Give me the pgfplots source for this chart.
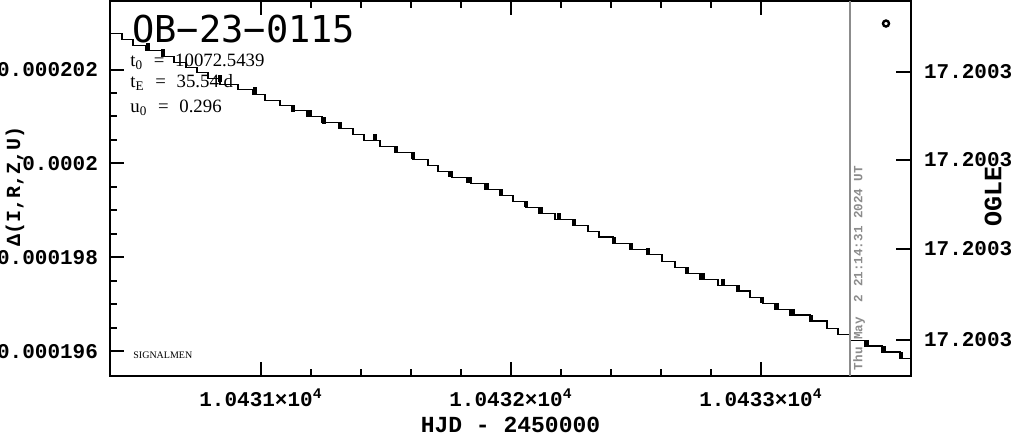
\documentclass[border=0pt]{standalone}
\usepackage{fontspec}
\usepackage{pgfplots}
\pgfplotsset{compat=1.18}
\newfontfamily\hmono{Liberation Mono}
\newfontfamily\hserif{Liberation Serif}
\newfontfamily\hsans{DejaVu Sans Mono}
\definecolor{stampgray}{RGB}{140,140,140}

\begin{document}
\begin{tikzpicture}
\begin{axis}[
  at={(0,0)}, anchor=south west,
  scale only axis, width=400.5pt, height=187.5pt,
  xmin=0.396, xmax=3.6, ymin=0.00019547, ymax=0.00020346,
  axis line style={line width=1pt},
  every tick/.style={black, line width=1pt},
  major tick length=7pt, minor tick length=3.5pt,
  tick align=inside,
  xtick={1,2,3},
  xticklabels={1.0431×10\textsuperscript{4},1.0432×10\textsuperscript{4},1.0433×10\textsuperscript{4}},
  minor x tick num=4,
  xtick pos=both, xticklabel pos=bottom,
  ytick pos=left, yticklabel pos=left,
  ytick={0.000196,0.000198,0.0002,0.000202},
  yticklabels={0.000196,0.000198,0.0002,0.000202},
  minor y tick num=3,
  ticklabel style={font=\hmono\bfseries\fontsize{10.5}{12}\selectfont},
  yticklabel style={xshift=-2.5pt},
  xticklabel style={yshift=-3pt},
  xlabel={HJD - 2450000},
  every axis x label/.style={at={(axis description cs:0.5,-0.1307)}, anchor=center, font=\hmono\bfseries\fontsize{11.5}{13}\selectfont},
  ylabel={Δ(I,R,Z,U)},
  every axis y label/.style={at={(axis description cs:-0.1186,0.5067)}, anchor=center, rotate=90, font=\hmono\bfseries\fontsize{10}{12}\selectfont},
  clip=true,
]
% staircase model curve
\addplot[const plot, black, line width=0.6pt] coordinates {
(0.396,0.00020277) (0.444,0.00020264) (0.488,0.00020251) (0.540,0.00020240)
(0.604,0.00020228) (0.652,0.00020215) (0.700,0.00020204) (0.744,0.00020194)
(0.788,0.00020181) (0.836,0.00020168) (0.908,0.00020157) (0.968,0.00020147)
(1.016,0.00020134) (1.076,0.00020123) (1.124,0.00020113) (1.184,0.00020100)
(1.244,0.00020087) (1.316,0.00020074) (1.368,0.00020062) (1.412,0.00020049)
(1.476,0.00020036) (1.544,0.00020023) (1.608,0.00020009) (1.668,0.00019996)
(1.708,0.00019983) (1.764,0.00019970) (1.840,0.00019957) (1.908,0.00019945)
(1.956,0.00019932) (2.008,0.00019919) (2.060,0.00019906) (2.124,0.00019894)
(2.176,0.00019881) (2.248,0.00019868) (2.308,0.00019855) (2.352,0.00019843)
(2.408,0.00019830) (2.476,0.00019817) (2.544,0.00019806) (2.604,0.00019791)
(2.656,0.00019779) (2.704,0.00019766) (2.756,0.00019753) (2.828,0.00019740)
(2.904,0.00019728) (2.956,0.00019715) (3.008,0.00019702) (3.056,0.00019689)
(3.116,0.00019677) (3.196,0.00019664) (3.264,0.00019649) (3.308,0.00019636)
(3.356,0.00019623) (3.416,0.00019611) (3.484,0.00019598) (3.556,0.00019585)
(3.600,0.00019585)
};
% data points
\addplot[only marks, mark=|, mark size=1.6pt, line width=1.6pt, black] coordinates {
(0.548,0.00020249) (0.608,0.00020236) (0.836,0.00020181) (0.976,0.00020155)
(1.128,0.00020117) (1.196,0.00020106) (1.252,0.00020091) (1.316,0.00020081)
(1.456,0.00020055) (1.540,0.00020030) (1.608,0.00020017) (1.756,0.00019977)
(1.828,0.00019964) (1.900,0.00019951) (1.960,0.00019938) (2.060,0.00019913)
(2.116,0.00019900) (2.192,0.00019887) (2.252,0.00019874) (2.412,0.00019836)
(2.480,0.00019823) (2.548,0.00019813) (2.704,0.00019772) (2.768,0.00019760)
(2.848,0.00019747) (2.908,0.00019734) (3.004,0.00019709) (3.064,0.00019696)
(3.128,0.00019683) (3.200,0.00019670) (3.424,0.00019617) (3.492,0.00019604)
(3.560,0.00019591)
};
% legend-like open circle
\addplot[only marks, mark=o, mark size=1.5pt, line width=1.2pt, black] coordinates {(3.5,0.00020298)};
% current-time line
\addplot[stampgray, line width=0.6pt] coordinates {(3.356,0.00019547) (3.356,0.00020346)};
\end{axis}
\begin{axis}[
  at={(0,0)}, anchor=south west,
  scale only axis, width=400.5pt, height=187.5pt,
  xmin=0, xmax=1, ymin=0, ymax=375,
  axis x line=none,
  axis y line*=right,
  axis line style={line width=1pt, -},
  every tick/.style={black, line width=1pt},
  major tick length=7.5pt,
  tick align=inside,
  ytick={36,127,216,304},
  yticklabels={17.2003,17.2003,17.2003,17.2003},
  ticklabel style={font=\hmono\bfseries\fontsize{10.5}{12}\selectfont},
  yticklabel style={xshift=3pt},
  ylabel={OGLE},
  every axis y label/.style={at={(axis description cs:1.1024,0.48)}, anchor=center, rotate=90, font=\hmono\bfseries\fontsize{12.5}{14}\selectfont},
]
\end{axis}
% annotations
\node[anchor=base west, inner sep=0pt, font=\hsans\fontsize{18.5}{22}\selectfont] at (11pt,166.5pt) {OB−23−0115};
\node[anchor=base west, inner sep=0pt, font=\hserif\fontsize{9.4}{11}\selectfont] at (10pt,154.5pt) {t\textsubscript{0}\hspace{3pt} = \hspace{3pt}10072.5439};
\node[anchor=base west, inner sep=0pt, font=\hserif\fontsize{9.4}{11}\selectfont] at (10pt,144pt) {t\textsubscript{E}\hspace{3pt} = \hspace{3pt}35.54 d};
\node[anchor=base west, inner sep=0pt, font=\hserif\fontsize{9.4}{11}\selectfont] at (10pt,131.5pt) {u\textsubscript{0}\hspace{3pt} = \hspace{3pt}0.296};
\node[anchor=base west, inner sep=0pt, font=\hserif\fontsize{5}{6}\selectfont] at (11.5pt,9pt) {SIGNALMEN};
\node[rotate=90, anchor=center, inner sep=0pt, text=stampgray, font=\hmono\bfseries\fontsize{6.3}{8}\selectfont] at (374.5pt,54pt) {Thu May\ \ 2 21:14:31 2024 UT};
\pgfresetboundingbox
\path[use as bounding box] (-55pt,-29pt) rectangle (452pt,188pt);
\end{tikzpicture}
\end{document}
